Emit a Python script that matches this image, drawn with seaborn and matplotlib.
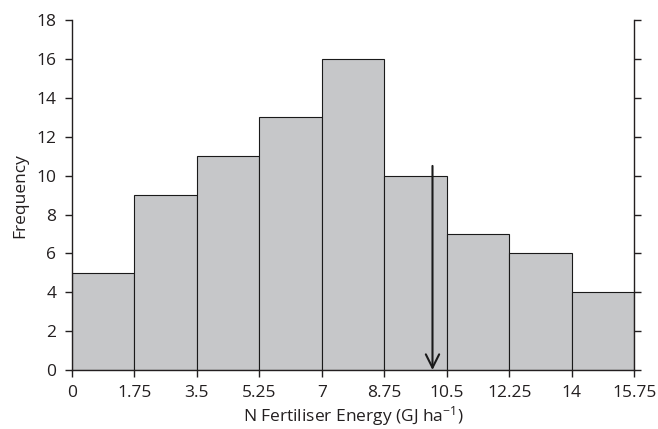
import matplotlib
matplotlib.use("Agg")
import matplotlib.pyplot as plt
import seaborn as sns
import numpy as np

bin_edges = [0, 1.75, 3.5, 5.25, 7, 8.75, 10.5, 12.25, 14, 15.75]
counts = [5, 9, 11, 13, 16, 10, 7, 6, 4]
tick_labels = ["0", "1.75", "3.5", "5.25", "7", "8.75", "10.5", "12.25", "14", "15.75"]
arrow_x = 10.1
arrow_top = 10.5

sns.set_theme(style="ticks")
plt.rcParams['font.family'] = ['Open Sans', 'DejaVu Sans']
plt.rcParams['mathtext.fontset'] = 'custom'
plt.rcParams['mathtext.rm'] = 'Open Sans'
plt.rcParams['mathtext.it'] = 'Open Sans'
plt.rcParams['axes.unicode_minus'] = False

fig = plt.figure(figsize=(6.58, 4.29), dpi=100)
ax = fig.add_axes([0.109, 0.1375, 0.855, 0.8155])

centers = [(a + b) / 2 for a, b in zip(bin_edges[:-1], bin_edges[1:])]
sns.histplot(x=centers, weights=counts, bins=bin_edges, ax=ax,
             color="#c6c7c9", edgecolor="#1a1a1a", linewidth=0.8, alpha=1)

ax.annotate("", xy=(arrow_x, 0), xytext=(arrow_x, arrow_top),
            arrowprops=dict(arrowstyle="->", color="#1a1a1a", lw=1.5,
                            mutation_scale=24, shrinkA=0, shrinkB=0))

ax.set_xlim(0, 15.75)
ax.set_ylim(0, 18)
ax.set_xticks(bin_edges)
ax.set_xticklabels(tick_labels)
ax.set_yticks(range(0, 19, 2))
ax.set_xlabel("N Fertiliser Energy (GJ ha$^{\\mathrm{-1}}$)", fontsize=12.5, color="#231f20", labelpad=2)
ax.set_ylabel("Frequency", fontsize=12.5, color="#231f20", labelpad=6)
ax.tick_params(axis="both", labelsize=12.5, colors="#231f20", direction="out",
               length=5, width=1, pad=6)
ax.tick_params(axis="y", right=True, labelright=False)
for s in ["left", "right", "bottom"]:
    ax.spines[s].set_visible(True)
    ax.spines[s].set_color("#231f20")
    ax.spines[s].set_linewidth(1)
ax.spines["top"].set_visible(False)

fig.savefig("out.png", dpi=100)
